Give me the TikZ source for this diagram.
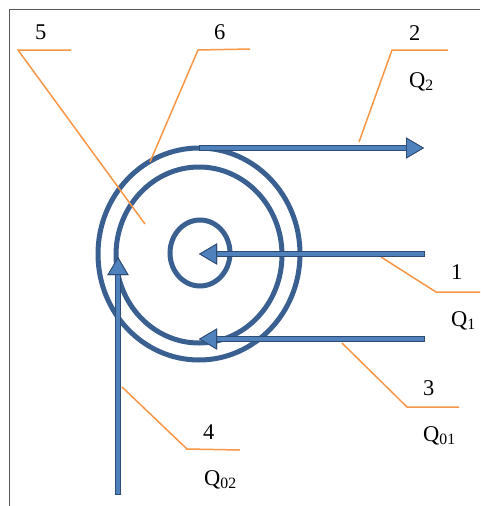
\documentclass[tikz,border=0pt]{standalone}
\usepackage{fontspec}
\setmainfont{Liberation Serif}
\usetikzlibrary{arrows.meta}
\definecolor{ringblue}{HTML}{3A5F91}
\definecolor{flowfill}{HTML}{4F81BD}
\definecolor{flowedge}{HTML}{2E4B73}
\definecolor{leader}{HTML}{F79646}

\begin{document}
\begin{tikzpicture}[x=1pt, y=-1pt, ring/.style={draw=ringblue, line width=5pt}, flow/.style={draw=flowfill, line width=3.4pt, preaction={draw=flowedge, line width=5.2pt, shorten <=-0.9pt}, -{Triangle[length=18pt, width=21pt, color=flowedge, fill=flowfill, line width=0.8pt]}}, lead/.style={draw=leader, line width=1.5pt}, tag/.style={anchor=base west, inner sep=0pt, font=\fontsize{22.5}{26}\selectfont}, frame/.style={draw=gray!70!black, line width=1.3pt}]
\useasboundingbox (0,0) rectangle (480,506);
\draw[frame] (9.5,506) -- (9.5,9.5) -- (480,9.5);

% rings
\coordinate (hub) at (199,254);
\draw[ring] (hub) ellipse [x radius=101, y radius=106]; \draw[ring] (199,255) ellipse [x radius=83, y radius=88]; \draw[ring] (200,253) ellipse [x radius=30, y radius=33];

% labels
\node[tag] (n5) at (35,39) {5}; \node[tag] (n6) at (214,39) {6}; \node[tag] (n2) at (409,40) {2}; \node[tag] (q2) at (409,87) {Q\textsubscript{2}};
\node[tag] (n1) at (451,279) {1}; \node[tag] (q1) at (451,326) {Q\textsubscript{1}};
\node[tag] (n3) at (423,395) {3}; \node[tag] (q01) at (423,441) {Q\textsubscript{01}};
\node[tag] (n4) at (203,439) {4}; \node[tag] (q02) at (204,485) {Q\textsubscript{02}};

% leaders
\coordinate (p5) at (145,224); \coordinate (k5) at (18,50); \coordinate (e5) at (71,50);
\coordinate (p6) at (150,162); \coordinate (k6) at (198,50); \coordinate (e6) at (250,49);
\coordinate (p2) at (359,142); \coordinate (k2) at (392,50); \coordinate (e2) at (448,50);
\coordinate (p1) at (381,257); \coordinate (k1) at (436,292); \coordinate (e1) at (480,292);
\coordinate (p3) at (342,343); \coordinate (k3) at (407,407); \coordinate (e3) at (459,407);
\coordinate (p4) at (122,387); \coordinate (k4) at (187,449); \coordinate (e4) at (240,450);
\foreach \i in {5,6,2,1,3,4} \draw[lead] (p\i) -- (k\i) -- (e\i);

% flows
\coordinate (s2) at (200,148); \coordinate (t2) at (424,148);
\coordinate (s1) at (424,254); \coordinate (t1) at (199,254);
\coordinate (s3) at (424,339); \coordinate (t3) at (199,339);
\coordinate (s4) at (118,494); \coordinate (t4) at (118,257);
\foreach \i in {2,1,3,4} \draw[flow] (s\i) -- (t\i);
\end{tikzpicture}
\end{document}
